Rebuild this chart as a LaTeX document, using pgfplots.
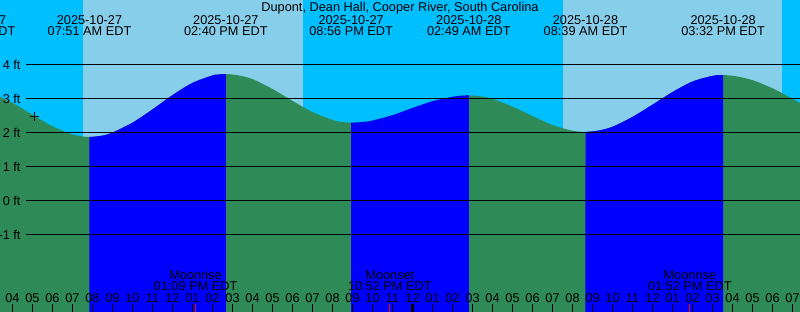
\documentclass[border=0pt]{standalone}
\usepackage{pgfplots}
\pgfplotsset{compat=1.18}
\usepgfplotslibrary{fillbetween}
\usepackage{pgfplotstable}
\usepackage{fontspec}
\setmainfont{Liberation Sans}
\definecolor{night}{HTML}{00BFFF}
\definecolor{day}{HTML}{87CEEB}
\definecolor{sea}{HTML}{2E8B57}
\definecolor{rise}{HTML}{0000FF}

\pgfplotstableread{
t h
2.0 3.22
3 3.13
4 2.87
5 2.52
6 2.18
7 1.94
7.3 1.90
7.85 1.87
8.5 1.91
9 2.00
10 2.29
11 2.68
12 3.10
13 3.46
14 3.68
14.2 3.70
14.67 3.72
15.3 3.68
16 3.57
17 3.28
18 2.93
19 2.60
20 2.37
20.4 2.315
20.93 2.29
21.5 2.308
22 2.35
23 2.51
24 2.72
25 2.92
26 3.05
26.3 3.075
26.82 3.09
27.4 3.064
28 2.99
29 2.76
30 2.48
31 2.22
32 2.053
32.65 2.02
33.3 2.057
34 2.17
35 2.46
36 2.82
37 3.19
38 3.50
39 3.666
39.53 3.69
40.2 3.65
41 3.54
42 3.30
43 2.99
44 2.66
}\tide

\begin{document}
\begin{tikzpicture}[font=\fontsize{12.8}{14}\selectfont]
\begin{axis}[
  width=800bp, height=312bp, scale only axis,
  xmin=3.375, xmax=43.375, ymin=-3.279, ymax=5.897,
  axis background/.style={fill=night},
  axis line style={draw=none},
  axis on top,
  ytick=\empty,
  xtick={4,...,43},
  xticklabels={04,05,06,07,08,09,10,11,12,01,02,03,04,05,06,07,08,09,10,11,12,01,02,03,04,05,06,07,08,09,10,11,12,01,02,03,04,05,06,07},
  xtick pos=left,
  tick align=inside,
  major tick length=8bp,
  xtick style={black, line width=1bp},
  xticklabel style={anchor=base, yshift=10bp, inner sep=0pt, font=\fontsize{12.8}{14}\selectfont},
  every node/.style={inner sep=0pt},
]
\addplot[name path=tide, draw=none, smooth] table[x=t, y=h] {\tide};
\addplot[name path=bot, draw=none] coordinates {(2,-3.279) (44,-3.279)};
\addplot[name path=top, draw=none] coordinates {(2,5.897) (44,5.897)};

\addplot[day] fill between[of=top and bot, soft clip={domain=7.525:18.525}];
\addplot[day] fill between[of=top and bot, soft clip={domain=31.55:42.475}];
\addplot[sea] fill between[of=tide and bot];
\addplot[rise] fill between[of=tide and bot, soft clip={domain=7.85:14.667}];
\addplot[rise] fill between[of=tide and bot, soft clip={domain=20.933:26.817}];
\addplot[rise] fill between[of=tide and bot, soft clip={domain=32.65:39.533}];

% level lines
\addplot[black, line width=1bp] coordinates {(4.675,4) (43.5,4)};
\addplot[black, line width=1bp] coordinates {(4.675,3) (43.5,3)};
\addplot[black, line width=1bp] coordinates {(4.675,2) (43.5,2)};
\addplot[black, line width=1bp] coordinates {(4.675,1) (43.5,1)};
\addplot[black, line width=1bp] coordinates {(4.675,0) (43.5,0)};
\addplot[black, line width=1bp] coordinates {(4.675,-1) (43.5,-1)};

% midnight and moon ticks
\addplot[black, line width=3bp] coordinates {(24,-3.279) (24,-3.044)};
\addplot[red, line width=1bp] coordinates {(13.15,-3.279) (13.15,-3.044)};
\addplot[red, line width=1bp] coordinates {(22.867,-3.279) (22.867,-3.044)};
\addplot[red, line width=1bp] coordinates {(37.867,-3.279) (37.867,-3.044)};

% current time marker
\addplot[only marks, mark=+, mark size=4.5bp, black, line width=0.9bp] coordinates {(5.075,2.48)};

% level labels
\node[anchor=east] at (axis cs:4.575,4) {4 ft};
\node[anchor=east] at (axis cs:4.575,3) {3 ft};
\node[anchor=east] at (axis cs:4.575,2) {2 ft};
\node[anchor=east] at (axis cs:4.575,1) {1 ft};
\node[anchor=east] at (axis cs:4.575,0) {0 ft};
\node[anchor=east] at (axis cs:4.575,-1) {-1 ft};

% title
\node[anchor=base] at (axis cs:23.375,5.553) {Dupont, Dean Hall, Cooper River, South Carolina};

% tide events
\node[anchor=base] at (axis cs:2.05,5.191) {2025-10-27};
\node[anchor=base] at (axis cs:2.05,4.847) {02:03 AM EDT};
\node[anchor=base] at (axis cs:7.85,5.191) {2025-10-27};
\node[anchor=base] at (axis cs:7.85,4.847) {07:51 AM EDT};
\node[anchor=base] at (axis cs:14.667,5.191) {2025-10-27};
\node[anchor=base] at (axis cs:14.667,4.847) {02:40 PM EDT};
\node[anchor=base] at (axis cs:20.933,5.191) {2025-10-27};
\node[anchor=base] at (axis cs:20.933,4.847) {08:56 PM EDT};
\node[anchor=base] at (axis cs:26.817,5.191) {2025-10-28};
\node[anchor=base] at (axis cs:26.817,4.847) {02:49 AM EDT};
\node[anchor=base] at (axis cs:32.65,5.191) {2025-10-28};
\node[anchor=base] at (axis cs:32.65,4.847) {08:39 AM EDT};
\node[anchor=base] at (axis cs:39.533,5.191) {2025-10-28};
\node[anchor=base] at (axis cs:39.533,4.847) {03:32 PM EDT};

% moon events
\node[anchor=base] at (axis cs:13.15,-2.318) {Moonrise};
\node[anchor=base] at (axis cs:13.15,-2.641) {01:09 PM EDT};
\node[anchor=base] at (axis cs:22.867,-2.318) {Moonset};
\node[anchor=base] at (axis cs:22.867,-2.641) {10:52 PM EDT};
\node[anchor=base] at (axis cs:37.867,-2.318) {Moonrise};
\node[anchor=base] at (axis cs:37.867,-2.641) {01:52 PM EDT};
\end{axis}
\pgfresetboundingbox
\useasboundingbox (current axis.south west) rectangle (current axis.north east);
\end{tikzpicture}
\end{document}
